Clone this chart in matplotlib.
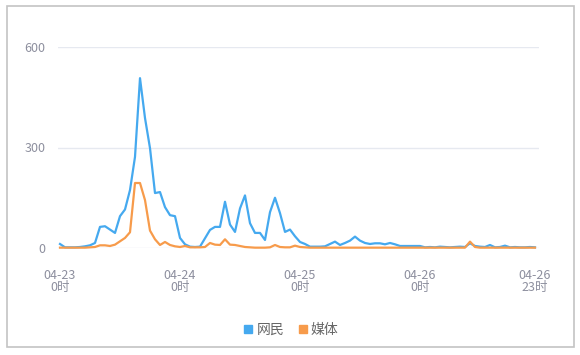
import matplotlib
matplotlib.use("Agg")
import matplotlib.pyplot as plt
from matplotlib.patches import Rectangle
from matplotlib.lines import Line2D

plt.rcParams['font.family'] = ['Noto Sans CJK SC', 'DejaVu Sans']

hours = list(range(96))
netizens = [12, 2, 2, 2, 3, 5, 8, 15, 63, 65, 55, 45, 95, 115, 173, 272,
            507, 388, 298, 164, 167, 122, 98, 95, 30, 11, 4, 3, 4, 29, 54, 63,
            63, 138, 70, 48, 118, 157, 74, 45, 45, 24, 107, 150, 104, 48, 55, 35,
            18, 12, 4, 4, 4, 5, 12, 19, 9, 15, 22, 34, 22, 15, 12, 14, 14, 11,
            15, 11, 6, 6, 6, 6, 6, 2, 3, 2, 4, 3, 2, 3, 4, 3, 14, 6, 4, 3,
            9, 2, 3, 7, 2, 3, 2, 2, 3, 2]
media = [1, 1, 1, 1, 1, 1, 2, 3, 8, 8, 6, 10, 20, 30, 47, 194,
         194, 143, 52, 26, 9, 18, 9, 5, 3, 6, 2, 2, 2, 3, 15, 10,
         9, 26, 10, 9, 6, 3, 2, 1, 1, 1, 2, 9, 3, 2, 2, 7,
         3, 2, 1, 1, 1, 1, 1, 1, 1, 1, 1, 1, 1, 1, 1, 1, 1, 1,
         1, 1, 1, 1, 1, 1, 1, 1, 1, 1, 1, 1, 1, 1, 1, 1, 19, 3, 1, 1,
         1, 1, 1, 1, 1, 1, 1, 1, 1, 1]
tick_pos = [0, 24, 48, 72, 95]
tick_labels = ['04-23\n0时', '04-24\n0时', '04-25\n0时', '04-26\n0时', '04-26\n23时']
y_ticks = [0, 300, 600]
series_names = ['网民', '媒体']
colors = ['#45a9ef', '#f79b4b']

fig = plt.figure(figsize=(5.8, 3.55), dpi=100)
ax = fig.add_axes([58/580, 107/355, 481/580, 201/355])

ax.plot(hours, netizens, color=colors[0], lw=1.6, clip_on=False, zorder=3)
ax.plot(hours, media, color=colors[1], lw=1.6, clip_on=False, zorder=3)

ax.set_xlim(-0.4, 95.8)
ax.set_ylim(0, 600)
ax.set_yticks(y_ticks)
ax.set_yticklabels([str(v) for v in y_ticks])
ax.set_xticks(tick_pos)
ax.set_xticklabels(tick_labels, linespacing=0.95)
ax.grid(axis='y', color='#e6e9f0', lw=1)
ax.set_axisbelow(True)
for s in ax.spines.values():
    s.set_visible(False)
ax.tick_params(axis='both', length=0, colors='#8d8f9e', labelsize=9)
ax.tick_params(axis='y', pad=9)
ax.tick_params(axis='x', pad=15)

handles = [Line2D([], [], marker='s', ls='', color=c, markersize=6) for c in colors]
fig.legend(handles, series_names, loc='center', bbox_to_anchor=(290/580, 1 - 330/355),
           ncol=2, frameon=False, fontsize=10, handletextpad=0.1, columnspacing=0.8,
           labelcolor='#666666', handlelength=1.0)

fig.patches.append(Rectangle((7/580, 1 - 347/355), 567/580, 341/355, transform=fig.transFigure,
                             fill=False, edgecolor='#c4c4c4', lw=1.2))

fig.savefig('out.png', dpi=100)
